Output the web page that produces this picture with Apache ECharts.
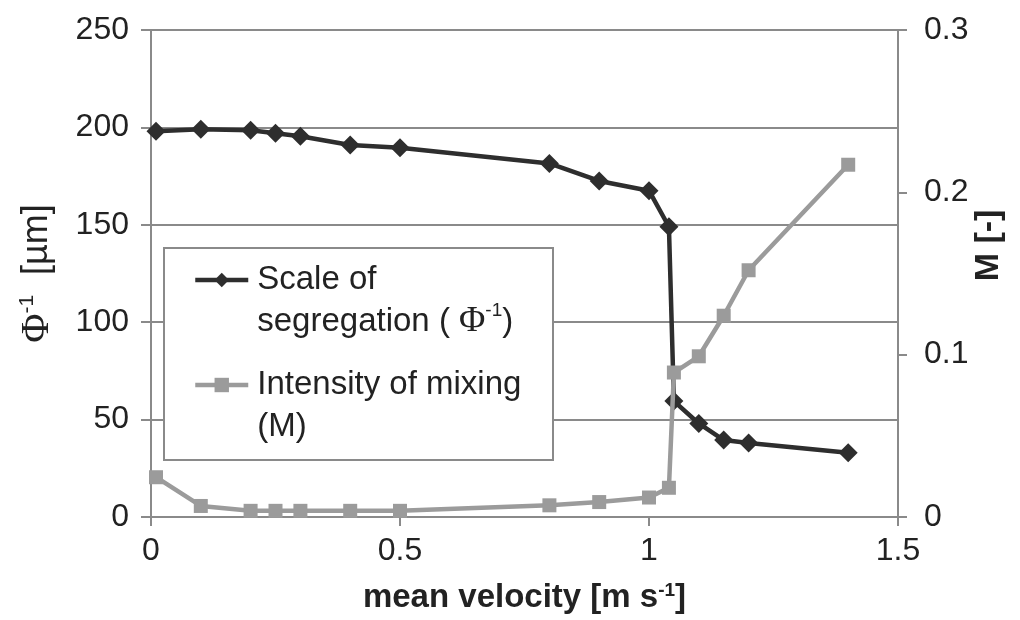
<!DOCTYPE html>
<html>
<head>
<meta charset="utf-8">
<script src="https://cdn.jsdelivr.net/npm/echarts@6/dist/echarts.min.js"></script>
<style>
  html, body { margin: 0; padding: 0; background: #fff; }
  #chart { width: 1020px; height: 620px; }
</style>
</head>
<body>
<div id="chart"></div>
<script>
// mean velocity [m/s]
const velocity = [0.01, 0.1, 0.2, 0.25, 0.3, 0.4, 0.5, 0.8, 0.9, 1.0, 1.04, 1.05, 1.1, 1.15, 1.2, 1.4];
// scale of segregation, Phi^-1 [um]
const segregationScale = [198, 199, 198.5, 197, 195.5, 191, 189.5, 181.5, 172.5, 167.5, 149, 59.5, 48, 39.5, 38, 33];
// intensity of mixing, M [-]
const mixingIntensity = [0.0245, 0.0068, 0.0038, 0.0038, 0.0038, 0.0038, 0.0038, 0.0072, 0.0092, 0.012, 0.018, 0.089, 0.099, 0.124, 0.152, 0.217];

const seriesNames = ['Scale of segregation', 'Intensity of mixing'];
const xTicks = { min: 0, max: 1.5, interval: 0.5 };
const leftTicks = { min: 0, max: 250, interval: 50 };
const rightTicks = { min: 0, max: 0.3, interval: 0.1 };

const FONT = '"Liberation Sans", Arial, sans-serif';
const SERIF = '"Liberation Serif", "Times New Roman", serif';
const TEXT = '#222';
const AXIS = '#8a8a8a';
const DARK = '#2e2e2e';
const GREY = '#9b9b9b';

const pairs = (xs, ys) => xs.map((x, i) => [x, ys[i]]);

const chart = echarts.init(document.getElementById('chart'), null, { renderer: 'canvas' });

chart.setOption({
  animation: false,
  backgroundColor: '#fff',
  grid: { left: 151, right: 122, top: 30, bottom: 103, containLabel: false },
  xAxis: {
    type: 'value',
    min: xTicks.min, max: xTicks.max, interval: xTicks.interval,
    axisLine: { show: true, lineStyle: { color: AXIS, width: 2 } },
    axisTick: { show: true, length: 9, lineStyle: { color: AXIS, width: 2 } },
    splitLine: { show: false },
    axisLabel: { fontFamily: FONT, fontSize: 32, color: TEXT, margin: 18 },
    name: 'mean velocity [m s{sb|-1}]',
    nameLocation: 'middle',
    nameGap: 64,
    nameTextStyle: {
      fontFamily: FONT, fontSize: 33, fontWeight: 'bold', color: TEXT,
      rich: { sb: { fontSize: 19, fontWeight: 'bold', verticalAlign: 'top', fontFamily: FONT, color: TEXT } }
    }
  },
  yAxis: [
    {
      type: 'value',
      position: 'left',
      min: leftTicks.min, max: leftTicks.max, interval: leftTicks.interval,
      axisLine: { show: true, lineStyle: { color: AXIS, width: 2 } },
      axisTick: { show: true, length: 10, lineStyle: { color: AXIS, width: 2 } },
      splitLine: { show: true, lineStyle: { color: AXIS, width: 2 } },
      axisLabel: { fontFamily: FONT, fontSize: 32, color: TEXT, margin: 22 },
      name: '{f|Φ}{s|-1}  [µm]',
      nameLocation: 'middle',
      nameGap: 94,
      nameTextStyle: {
        fontFamily: FONT, fontSize: 36, color: TEXT,
        rich: {
          f: { fontFamily: SERIF, fontSize: 40, color: TEXT },
          s: { fontSize: 21, verticalAlign: 'top', fontFamily: FONT, color: TEXT }
        }
      }
    },
    {
      type: 'value',
      position: 'right',
      min: rightTicks.min, max: rightTicks.max, interval: rightTicks.interval,
      axisLine: { show: true, lineStyle: { color: AXIS, width: 2 } },
      axisTick: { show: true, length: 9, lineStyle: { color: AXIS, width: 2 } },
      splitLine: { show: false },
      axisLabel: { fontFamily: FONT, fontSize: 32, color: TEXT, margin: 26 },
      name: 'M [-]',
      nameLocation: 'middle',
      nameGap: 74,
      nameMoveOverlap: false,
      nameTextStyle: { fontFamily: FONT, fontSize: 34, fontWeight: 'bold', color: TEXT, padding: [0, 0, 0, 56] }
    }
  ],
  graphic: [
    {
      type: 'rect',
      z: 1,
      shape: { x: 164, y: 248, width: 389, height: 212 },
      style: { fill: '#fff', stroke: AXIS, lineWidth: 2 }
    }
  ],
  legend: {
    orient: 'vertical',
    left: 193,
    top: 217,
    padding: 0,
    itemGap: -21,
    itemWidth: 53,
    itemHeight: 18,
    z: 5,
    data: seriesNames,
    lineStyle: { width: 4.5 },
    formatter: function (name) {
      if (name === seriesNames[0]) return 'Scale of\nsegregation ( {f|Φ}{s|-1})';
      return 'Intensity of mixing\n(M)';
    },
    textStyle: {
      fontFamily: FONT, fontSize: 33, color: TEXT, lineHeight: 42,
      padding: [42, 0, 0, 4],
      rich: {
        f: { fontFamily: SERIF, fontSize: 36, lineHeight: 42, color: TEXT },
        s: { fontSize: 19, verticalAlign: 'top', lineHeight: 42, fontFamily: FONT, color: TEXT }
      }
    }
  },
  series: [
    {
      name: seriesNames[0],
      type: 'line',
      yAxisIndex: 0,
      data: pairs(velocity, segregationScale),
      symbol: 'diamond',
      symbolSize: 19,
      lineStyle: { color: DARK, width: 4.5 },
      itemStyle: { color: DARK },
      z: 3
    },
    {
      name: seriesNames[1],
      type: 'line',
      yAxisIndex: 1,
      data: pairs(velocity, mixingIntensity),
      symbol: 'rect',
      symbolSize: 14,
      lineStyle: { color: GREY, width: 4.5 },
      itemStyle: { color: GREY },
      z: 4
    }
  ]
});
</script>
</body>
</html>
